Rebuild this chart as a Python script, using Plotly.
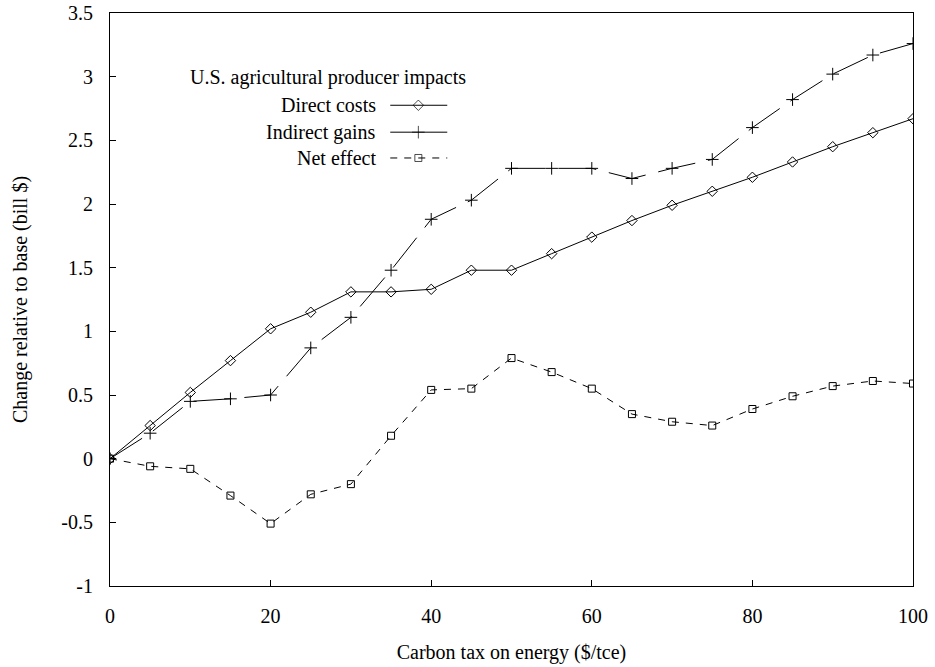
import plotly.graph_objects as go

# Carbon tax levels ($/tce)
tax = [0, 5, 10, 15, 20, 25, 30, 35, 40, 45, 50, 55, 60, 65, 70, 75, 80, 85, 90, 95, 100]

# Change relative to base (bill $)
direct_costs = [0, 0.26, 0.52, 0.77, 1.02, 1.15, 1.31, 1.31, 1.33, 1.48, 1.48,
                1.61, 1.74, 1.87, 1.99, 2.10, 2.21, 2.33, 2.45, 2.56, 2.67]
indirect_gains = [0, 0.20, 0.45, 0.47, 0.50, 0.87, 1.11, 1.48, 1.88, 2.03, 2.28,
                  2.28, 2.28, 2.20, 2.28, 2.35, 2.60, 2.82, 3.02, 3.17, 3.26]
net_effect = [0, -0.06, -0.08, -0.29, -0.51, -0.28, -0.20, 0.18, 0.54, 0.55, 0.79,
              0.68, 0.55, 0.35, 0.29, 0.26, 0.39, 0.49, 0.57, 0.61, 0.59]

series_names = ["Direct costs", "Indirect gains", "Net effect"]
legend_title = "U.S. agricultural producer impacts"

y_ticks = [-1, -0.5, 0, 0.5, 1, 1.5, 2, 2.5, 3, 3.5]
y_tick_text = ["-1", "-0.5", "0", "0.5", "1", "1.5", "2", "2.5", "3", "3.5"]
x_ticks = [0, 20, 40, 60, 80, 100]

FONT = "'Liberation Serif', 'Times New Roman', Times, serif"
INK = "black"

styles = [
    dict(dash="solid", symbol="diamond-open", size=8),
    dict(dash="38px,13px", symbol="cross-thin-open", size=9),
    dict(dash="7px,7px", symbol="square-open", size=7),
]
legend_dash = ["solid", "solid", "7px,7px"]

fig = go.Figure()

for name, values, st in zip(series_names, [direct_costs, indirect_gains, net_effect], styles):
    fig.add_trace(go.Scatter(
        x=tax, y=values, name=name, mode="lines+markers",
        line=dict(color=INK, width=1, dash=st["dash"]),
        marker=dict(symbol=st["symbol"], size=st["size"], color=INK,
                    line=dict(color=INK, width=1)),
        showlegend=False, hoverinfo="x+y+name",
    ))

# Key drawn in the upper-left corner: label on the left, line sample on the right
key_text_x = 0.334
key_line_x0, key_mid_x, key_line_x1 = 0.349, 0.384, 0.420
key_rows_y = [0.839, 0.792, 0.747]

for name, st, dash, ky in zip(series_names, styles, legend_dash, key_rows_y):
    fig.add_trace(go.Scatter(
        x=[key_line_x0, key_mid_x, key_line_x1], y=[ky, ky, ky],
        xaxis="x2", yaxis="y2", mode="lines+markers",
        line=dict(color=INK, width=1, dash=dash),
        marker=dict(symbol=st["symbol"], size=[0, st["size"], 0], color=INK,
                    line=dict(color=INK, width=1)),
        showlegend=False, hoverinfo="skip",
    ))
    fig.add_annotation(x=key_text_x, y=ky, xref="paper", yref="paper",
                       text=name, showarrow=False, xanchor="right", yanchor="middle",
                       font=dict(family=FONT, size=20, color=INK))

fig.add_annotation(x=0.272, y=0.888, xref="paper", yref="paper",
                   text=legend_title, showarrow=False, xanchor="center", yanchor="middle",
                   font=dict(family=FONT, size=20, color=INK))

axis_common = dict(
    showline=True, linecolor=INK, linewidth=1, mirror=True,
    ticks="inside", ticklen=6, tickcolor=INK, tickwidth=1,
    showgrid=False, zeroline=False, automargin=False,
    tickfont=dict(family=FONT, size=20, color=INK),
)

fig.update_layout(
    width=935, height=667,
    margin=dict(l=110, r=22, t=13, b=81),
    paper_bgcolor="white", plot_bgcolor="white",
    font=dict(family=FONT, size=20, color=INK),
    xaxis=dict(range=[0, 100], tickvals=x_ticks, ticklabelstandoff=12,
               title=dict(text="Carbon tax on energy ($/tce)", standoff=18,
                          font=dict(family=FONT, size=20, color=INK)),
               **axis_common),
    yaxis=dict(range=[-1, 3.5], tickvals=y_ticks, ticktext=y_tick_text,
               ticklabelstandoff=12,
               title=dict(text="Change relative to base (bill $)", standoff=28,
                          font=dict(family=FONT, size=20, color=INK)),
               **axis_common),
    xaxis2=dict(overlaying="x", range=[0, 1], visible=False, fixedrange=True),
    yaxis2=dict(overlaying="y", range=[0, 1], visible=False, fixedrange=True),
)

fig.write_html("out.html")
